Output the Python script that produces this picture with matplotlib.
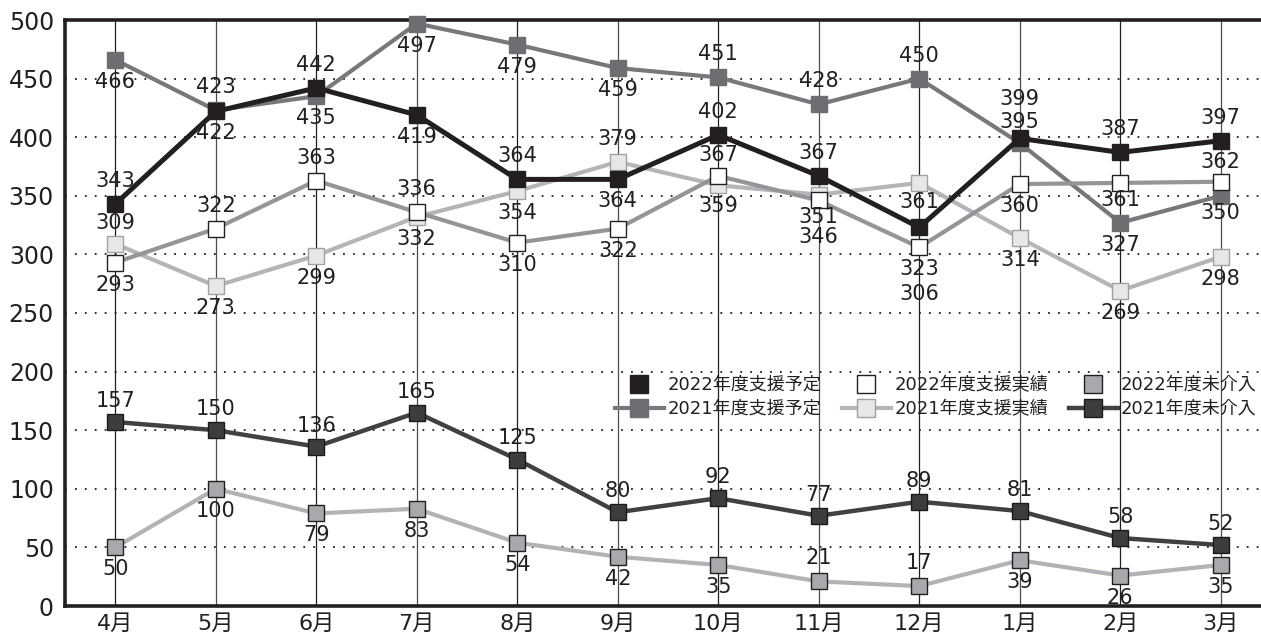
import matplotlib
matplotlib.use("Agg")
import matplotlib.pyplot as plt
from matplotlib.lines import Line2D

months = ["4月", "5月", "6月", "7月", "8月", "9月", "10月", "11月", "12月", "1月", "2月", "3月"]

plan_2022 = [343, 422, 442, 419, 364, 364, 402, 367, 323, 399, 387, 397]
plan_2021 = [466, 423, 435, 497, 479, 459, 451, 428, 450, 395, 327, 350]
done_2022 = [293, 322, 363, 336, 310, 322, 367, 346, 306, 360, 361, 362]
done_2021 = [309, 273, 299, 332, 354, 379, 359, 351, 361, 314, 269, 298]
none_2022 = [50, 100, 79, 83, 54, 42, 35, 21, 17, 39, 26, 35]
none_2021 = [157, 150, 136, 165, 125, 80, 92, 77, 89, 81, 58, 52]

yticks = [0, 50, 100, 150, 200, 250, 300, 350, 400, 450, 500]

# label offsets in pixels (positive = above the marker)
UP, DN = 23, -22
off_plan_2022 = [UP, DN, UP, DN, UP, DN, UP, UP, -42, 39, UP, UP]
off_plan_2021 = [DN, UP, DN, DN, DN, DN, UP, UP, UP, 21, DN, -17]
off_done_2022 = [DN, UP, UP, UP, DN, DN, 21, -37, -47, DN, -17, 20]
off_done_2021 = [21, DN, DN, DN, DN, UP, -21, DN, -19, DN, DN, DN]
off_none_2022 = [DN, DN, DN, DN, DN, DN, DN, UP, UP, DN, DN, DN]
off_none_2021 = [21] * 12

JP = ["DejaVu Sans", "Noto Sans CJK JP"]
plt.rcParams["font.family"] = JP
INK = "#231f20"

fig = plt.figure(figsize=(12.61, 6.39), dpi=100)
ax = fig.add_axes([65 / 1261, 33 / 639, 1206 / 1261, 586 / 639])
x = list(range(len(months)))

series = [
    # values, offsets, line colour, face, edge, line width, z
    (plan_2021, off_plan_2021, "#77787b", "#6d6e71", "#6d6e71", 3.0, 3),
    (done_2021, off_done_2021, "#b4b5b8", "#e6e7e8", "#a0a1a4", 3.0, 3),
    (none_2021, off_none_2021, "#414042", "#3d3d3f", "#1a1a1a", 3.2, 3),
    (none_2022, off_none_2022, "#b1b3b6", "#a7a9ac", "#231f20", 3.0, 4),
    (done_2022, off_done_2022, "#939598", "#ffffff", "#231f20", 3.0, 4),
    (plan_2022, off_plan_2022, INK, INK, INK, 3.6, 5),
]

for vals, offs, lc, fc, ec, lw, z in series:
    ax.plot(x, vals, color=lc, lw=lw, marker="s", markersize=11.5,
            markerfacecolor=fc, markeredgecolor=ec, markeredgewidth=1.0,
            zorder=z, clip_on=False)
    for xi, v, o in zip(x, vals, offs):
        ax.annotate(str(v), (xi, v), xytext=(0, o), textcoords="offset pixels",
                    ha="center", va="center", fontsize=15, color=INK, zorder=6,
                    family="DejaVu Sans")

ax.set_xlim(-0.5, 11.5)
ax.set_ylim(0, 500)
ax.set_yticks(yticks)
ax.set_xticks(x)
ax.set_xticklabels(months)
ax.tick_params(axis="y", length=0, pad=8, labelsize=17, colors=INK)
ax.tick_params(axis="x", length=0, pad=6, labelsize=16, colors=INK)

# dotted horizontal guides, thin solid verticals
for v in yticks[1:-1]:
    ax.axhline(v, color=INK, lw=1.3, linestyle=(0, (1, 4.5)), zorder=1)
for xi in x:
    ax.axvline(xi, color="#4d4d4f" if xi % 2 else "#231f20", lw=0.9, zorder=1)

for side in ["left", "bottom", "top"]:
    ax.spines[side].set_linewidth(2.6)
    ax.spines[side].set_color(INK)
ax.spines["right"].set_visible(False)

handles = [
    Line2D([], [], ls="none", marker="s", markersize=13, markerfacecolor=INK, markeredgecolor=INK),
    Line2D([], [], color="#77787b", lw=3.0, marker="s", markersize=13, markerfacecolor="#6d6e71", markeredgecolor="#6d6e71"),
    Line2D([], [], ls="none", marker="s", markersize=13, markerfacecolor="#ffffff", markeredgecolor=INK),
    Line2D([], [], color="#b4b5b8", lw=3.0, marker="s", markersize=13, markerfacecolor="#e6e7e8", markeredgecolor="#a0a1a4"),
    Line2D([], [], ls="none", marker="s", markersize=13, markerfacecolor="#a7a9ac", markeredgecolor=INK),
    Line2D([], [], color="#414042", lw=3.2, marker="s", markersize=13, markerfacecolor="#3d3d3f", markeredgecolor="#1a1a1a"),
]
labels = ["2022年度支援予定", "2021年度支援予定", "2022年度支援実績",
          "2021年度支援実績", "2022年度未介入", "2021年度未介入"]
fig.legend(handles, labels, ncol=3, loc="upper left",
           bbox_to_anchor=(615 / 1261, 1 - 376 / 639), frameon=False,
           prop={"family": JP, "size": 13}, handlelength=2.7,
           handletextpad=0.2, columnspacing=1.15, labelspacing=0.33,
           borderpad=0, borderaxespad=0, labelcolor=INK)

fig.savefig("out.png", dpi=100)
